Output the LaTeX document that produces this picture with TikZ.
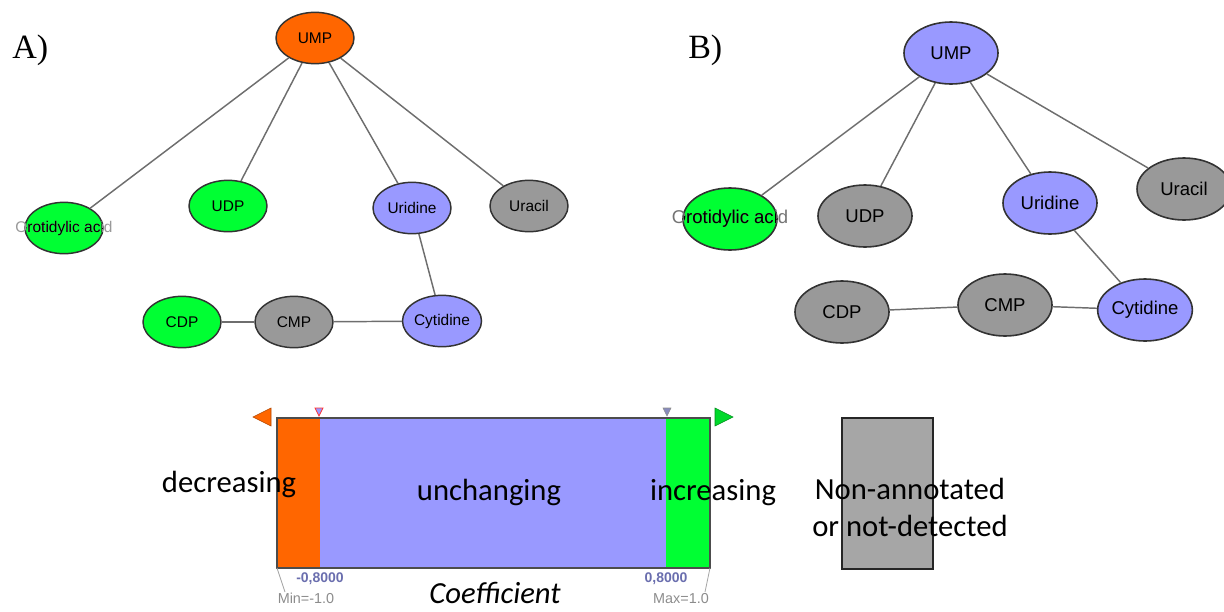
\documentclass[tikz,border=0pt]{standalone}
\usepackage{fontspec}
\setmainfont{Liberation Serif}
\newfontfamily\arialfont{Liberation Sans}
\newfontfamily\califont{Carlito}
\usetikzlibrary{shapes.geometric}

\definecolor{downorange}{HTML}{FF6600}
\definecolor{flatblue}{HTML}{9999FF}
\definecolor{upgreen}{HTML}{00FF33}
\definecolor{nagray}{HTML}{999999}
\definecolor{boxgray}{HTML}{A6A6A6}
\definecolor{linkgray}{HTML}{6E6E6E}
\definecolor{ticknum}{HTML}{6A6EAE}
\definecolor{minmax}{HTML}{8C8C8C}

\begin{document}
\begin{tikzpicture}[x=0.75pt, y=-0.75pt,
    metA/.style={ellipse, draw=black!80, line width=1.1pt, inner sep=0pt,
                 minimum width=58.5pt, minimum height=38.5pt,
                 font=\arialfont\fontsize{11.6}{13}\selectfont},
    metB/.style={ellipse, draw=black!80, line width=1.2pt, inner sep=0pt,
                 minimum width=70.5pt, minimum height=46.5pt,
                 font=\arialfont\fontsize{13.9}{16}\selectfont},
    txtA/.style={inner sep=0pt, font=\arialfont\fontsize{11.6}{13}\selectfont},
    txtB/.style={inner sep=0pt, font=\arialfont\fontsize{13.9}{16}\selectfont},
    link/.style={draw=linkgray, line width=1.1pt},
    panel/.style={inner sep=0pt, anchor=base west, font=\fontsize{25.5}{28}\selectfont},
    legtxt/.style={inner sep=0pt, anchor=base, font=\califont\fontsize{23}{27}\selectfont},
    ticktxt/.style={inner sep=0pt, anchor=base, text=ticknum,
                    font=\arialfont\bfseries\fontsize{10.5}{12}\selectfont},
    limtxt/.style={inner sep=0pt, anchor=base, text=minmax,
                   font=\arialfont\fontsize{10.8}{12}\selectfont}]

  \useasboundingbox (0,0) rectangle (1224,611);

  % ================= panel labels =================
  \node[panel] (labA) at (12,58)  {A)};
  \node[panel] (labB) at (688,58) {B)};

  % ================= network A =================
  \node[metA, fill=downorange] (umpA) at (315,38)  {UMP};
  \node[metA, fill=upgreen]    (oroA) at (64,228)  {};
  \node[metA, fill=upgreen]    (udpA) at (228,206) {UDP};
  \node[metA, fill=flatblue]   (uriA) at (412,208) {Uridine};
  \node[metA, fill=nagray]     (uraA) at (529,206) {Uracil};
  \node[metA, fill=upgreen]    (cdpA) at (182,322) {CDP};
  \node[metA, fill=nagray]     (cmpA) at (294,322) {CMP};
  \node[metA, fill=flatblue]   (cytA) at (442,321) {Cytidine};

  \node[txtA, text=black!40] (oroAout) at (oroA) {Orotidylic acid};
  \begin{scope}
    \clip (oroA.center) ellipse [x radius=38, y radius=25];
    \node[txtA] (oroAin) at (oroA) {Orotidylic acid};
  \end{scope}

  \draw[link] (umpA) -- (oroA);
  \draw[link] (umpA) -- (udpA);
  \draw[link] (umpA) -- (uriA);
  \draw[link] (umpA) -- (uraA);
  \draw[link] (uriA) -- (cytA);
  \draw[link] (cdpA) -- (cmpA);
  \draw[link] (cmpA) -- (cytA);

  % ================= network B =================
  \node[metB, fill=flatblue] (umpB) at (951,53)   {UMP};
  \node[metB, fill=upgreen]  (oroB) at (730,219)  {};
  \node[metB, fill=nagray]   (udpB) at (865,216)  {UDP};
  \node[metB, fill=flatblue] (uriB) at (1050,203) {Uridine};
  \node[metB, fill=nagray]   (uraB) at (1184,189) {Uracil};
  \node[metB, fill=nagray]   (cdpB) at (842,312)  {CDP};
  \node[metB, fill=nagray]   (cmpB) at (1005,305) {CMP};
  \node[metB, fill=flatblue] (cytB) at (1145,310) {Cytidine};

  \node[txtB, text=black!55] (oroBout) at (oroB) {Orotidylic acid};
  \begin{scope}
    \clip (oroB.center) ellipse [x radius=46, y radius=30];
    \node[txtB] (oroBin) at (oroB) {Orotidylic acid};
  \end{scope}

  \draw[link] (umpB) -- (oroB);
  \draw[link] (umpB) -- (udpB);
  \draw[link] (umpB) -- (uriB);
  \draw[link] (umpB) -- (uraB);
  \draw[link] (uriB) -- (cytB);
  \draw[link] (cdpB) -- (cmpB);
  \draw[link] (cmpB) -- (cytB);

  % ================= colour scale =================
  \fill[downorange] (277,418) rectangle (320,568);
  \fill[flatblue]   (320,418) rectangle (666,568);
  \fill[upgreen]    (666,418) rectangle (710,568);
  \draw[black!70, line width=0.9pt] (277,418) rectangle (710,568);

  % end arrows and handles
  \filldraw[fill=downorange, draw=downorange!70!black, line width=0.4pt]
      (271,408) -- (271,426) -- (253,417) -- cycle;
  \filldraw[fill=upgreen!85!black, draw=upgreen!55!black, line width=0.4pt]
      (715,408) -- (715,426) -- (733,417) -- cycle;
  \filldraw[fill=flatblue, draw=red!80, line width=0.6pt]
      (315,408) -- (323,408) -- (319,416) -- cycle;
  \filldraw[fill=ticknum!80, draw=black!45, line width=0.4pt]
      (663,408) -- (671,408) -- (667,416) -- cycle;

  % min / max leaders
  \draw[black!35, line width=0.6pt] (277,568) -- (285,592);
  \draw[black!35, line width=0.6pt] (710,568) -- (705,592);

  \node[ticktxt] (lowcut)  at (320,582) {-0,8000};
  \node[ticktxt] (highcut) at (666,582) {0,8000};
  \node[limtxt]  (minval)  at (306,603) {Min=-1.0};
  \node[limtxt]  (maxval)  at (681,603) {Max=1.0};
  \node[legtxt, font=\califont\itshape\fontsize{23}{27}\selectfont]
      (coef) at (495,603) {Coefficient};

  \node[legtxt] (decr)  at (229,492) {decreasing};
  \node[legtxt] (flat)  at (489,500) {unchanging};
  \node[legtxt] (incr)  at (713,500) {increasing};

  % ================= not annotated =================
  \filldraw[fill=boxgray, draw=black!85, line width=0.9pt] (842,418) rectangle (933,569);
  \node[legtxt] (nonann) at (910,499) {Non-annotated};
  \node[legtxt] (notdet) at (910,536) {or not-detected};

\end{tikzpicture}
\end{document}
